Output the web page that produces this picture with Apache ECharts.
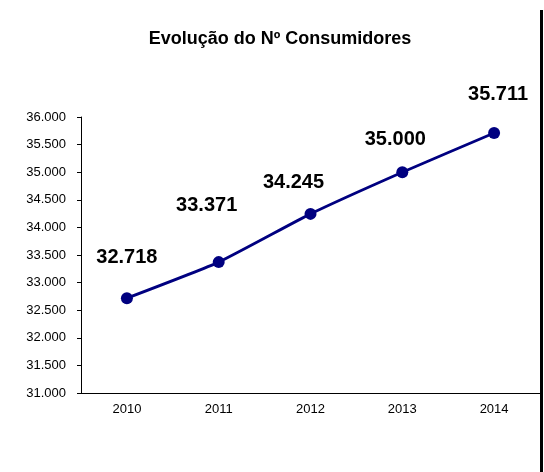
<!DOCTYPE html>
<html>
<head>
<meta charset="utf-8">
<script src="https://cdn.jsdelivr.net/npm/echarts@6/dist/echarts.min.js"></script>
<style>
  html, body { margin: 0; padding: 0; background: #fff; }
  #chart { width: 544px; height: 472px; }
</style>
</head>
<body>
<div id="chart"></div>
<script>
// dados
const anos = ['2010', '2011', '2012', '2013', '2014'];
const consumidores = [32718, 33371, 34245, 35000, 35711];
const eixoMin = 31000;
const eixoMax = 36000;
const eixoPasso = 500;

// deslocamento dos rótulos em relação a cada ponto (estilo)
const desvioRotulos = [[0, -41], [-12, -57], [-17, -31], [-7, -33], [4, -38]];

const fonte = 'Liberation Sans, Arial, sans-serif';
const fmt = v => (v / 1000).toFixed(3);

const myChart = echarts.init(document.getElementById('chart'));

const option = {
    backgroundColor: '#fff',
    animation: false,
    title: {
        text: 'Evolução do Nº Consumidores',
        left: 275,
        textAlign: 'center',
        top: 25,
        textStyle: { fontFamily: fonte, fontSize: 18, fontWeight: 'bold', color: '#000' }
    },
    grid: { left: 81, right: 4, top: 117, bottom: 79 },
    xAxis: {
        type: 'category',
        data: anos,
        boundaryGap: true,
        axisLine: { lineStyle: { color: '#000', width: 1 } },
        axisTick: { length: 3, lineStyle: { color: '#000' } },
        axisLabel: { fontFamily: fonte, fontSize: 13, color: '#000', margin: 10 },
        splitLine: { show: false }
    },
    yAxis: {
        type: 'value',
        min: eixoMin,
        max: eixoMax,
        interval: eixoPasso,
        axisLine: { show: true, lineStyle: { color: '#000', width: 1 } },
        axisTick: { show: true, length: 4, lineStyle: { color: '#000' } },
        axisLabel: { fontFamily: fonte, fontSize: 13, color: '#000', margin: 15, formatter: fmt },
        splitLine: { show: false }
    },
    graphic: [{
        type: 'rect',
        shape: { x: 540, y: 10, width: 3, height: 462 },
        style: { fill: '#000' }
    }],
    series: [{
        type: 'line',
        data: consumidores.map((v, i) => ({
            value: v,
            label: { offset: desvioRotulos[i] }
        })),
        smooth: 0.15,
        symbol: 'circle',
        symbolSize: 12,
        itemStyle: { color: '#000080' },
        lineStyle: { color: '#000080', width: 2.8 },
        label: {
            show: true,
            position: 'inside',
            formatter: p => fmt(p.value),
            fontFamily: fonte,
            fontSize: 20,
            fontWeight: 'bold',
            color: '#000'
        }
    }]
};

myChart.setOption(option);
</script>
</body>
</html>
